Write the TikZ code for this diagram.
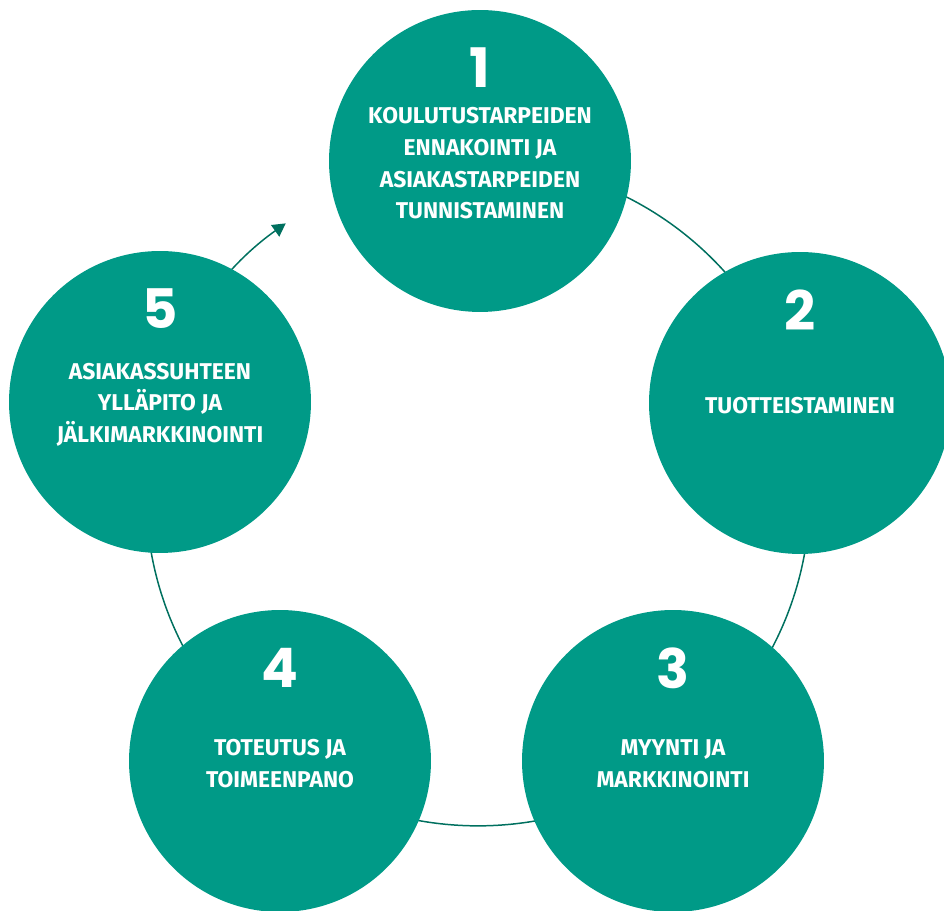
\documentclass[tikz,border=0pt]{standalone}
\usepackage{fontspec}
\setmainfont{Fira Sans}
\newfontfamily\numfont{Poppins}
\usetikzlibrary{arrows.meta}
\definecolor{turkoosi}{HTML}{009A87}
\definecolor{tumma}{HTML}{00705F}
\begin{document}
\begin{tikzpicture}[x=0.02cm,y=0.02cm,
pallo/.style={circle,fill=turkoosi,minimum size=6.04cm,inner sep=0pt},
teksti/.style={text=white,font=\bfseries\fontsize{13}{18}\selectfont,align=center},
numero/.style={text=white,font=\numfont\bfseries\fontsize{31}{31}\selectfont},
kaari/.style={draw=tumma,line width=0.85pt}]
\useasboundingbox (0,0) rectangle (944,911);
\newcommand\vaihe[4]{
\node[pallo] (v#1) at (#2) {};
\node[numero] (n#1) at ([yshift=1.86cm]v#1.center) {#3};
\node[teksti] (t#1) at ([yshift=-0.05cm]v#1.center) {#4};
}
\coordinate (keski) at (478,417);
\draw[kaari,-{Triangle[length=0.26cm,width=0.28cm]}] (keski) ++(90:332) arc[start angle=90,end angle=-234.6,radius=6.64cm];
\vaihe{1}{480,750}{1}{KOULUTUSTARPEIDEN\\ENNAKOINTI JA\\ASIAKASTARPEIDEN\\TUNNISTAMINEN}
\vaihe{2}{800,508}{2}{TUOTTEISTAMINEN}
\vaihe{3}{673,150}{3}{MYYNTI JA\\MARKKINOINTI}
\vaihe{4}{280,150}{4}{TOTEUTUS JA\\TOIMEENPANO}
\vaihe{5}{160,509}{5}{ASIAKASSUHTEEN\\YLLÄPITO JA\\JÄLKIMARKKINOINTI}
\end{tikzpicture}
\end{document}
